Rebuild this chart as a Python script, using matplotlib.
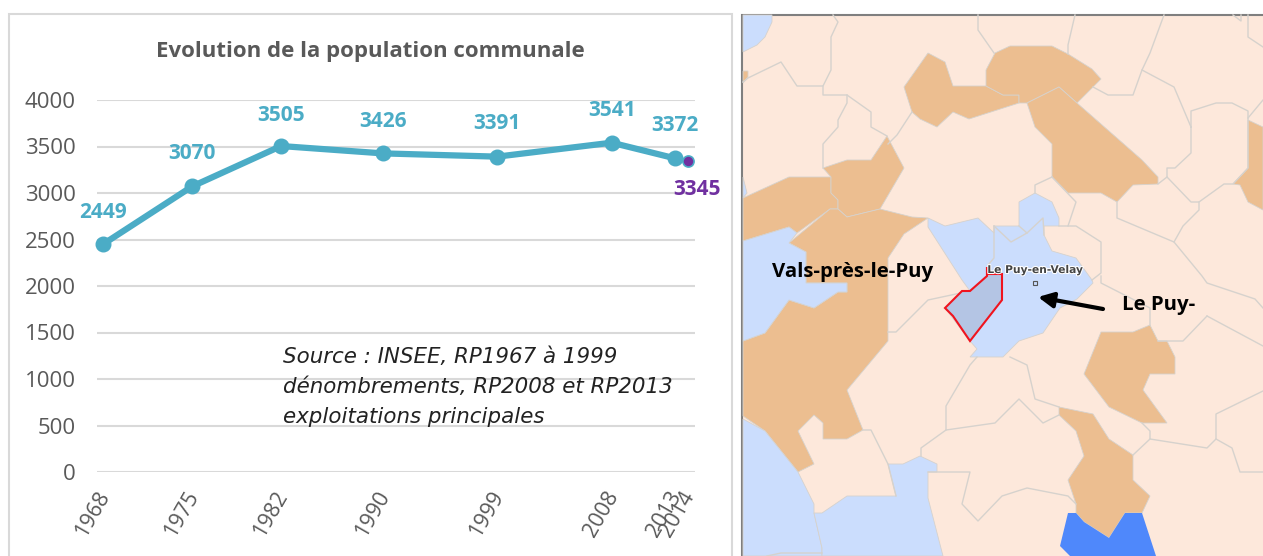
import matplotlib
matplotlib.use('Agg')
import matplotlib.pyplot as plt
import matplotlib.patheffects as pe
from matplotlib.patches import Polygon, Rectangle
from matplotlib.transforms import ScaledTranslation

# chart data
years = [1968, 1975, 1982, 1990, 1999, 2008, 2013]
population = [2449, 3070, 3505, 3426, 3391, 3541, 3372]
year_last = 2014
population_last = 3345
tick_years = [1968, 1975, 1982, 1990, 1999, 2008, 2013, 2014]
y_ticks = [0, 500, 1000, 1500, 2000, 2500, 3000, 3500, 4000]

# label offsets in pixels from the point
label_offsets = [(0, 32), (0, 33), (0, 31), (0, 32), (0, 33), (0, 32), (0, 33)]

# map shapes in pixels
tan_shapes = [
    [(928,53),(945,62),(953,86),(986,86),(1003,95),(1019,95),(1019,103),(969,119),(953,112),(937,127),(920,119),(912,112),(904,87)],
    [(986,86),(986,70),(995,53),(1010,46),(1052,46),(1068,54),(1092,69),(1101,79),(1077,103),(1059,87),(1027,103),(1019,103),(1019,95),(1003,95)],
    [(1027,103),(1059,87),(1077,103),(1142,160),(1158,177),(1158,184),(1133,185),(1117,202),(1101,193),(1068,193),(1052,177),(1052,144),(1035,127)],
    [(1248,120),(1263,127),(1263,210),(1248,202),(1240,185),(1233,184),(1248,168)],
    [(743,71),(748,71),(748,77),(743,83)],
    [(743,198),(789,177),(831,177),(831,193),(838,200),(838,209),(830,209),(797,233),(789,227),(743,241)],
    [(823,168),(847,160),(871,160),(887,136),(904,168),(880,209),(847,217),(838,209),(838,200),(831,193),(831,177)],
    [(789,243),(830,209),(838,209),(847,217),(880,209),(912,217),(928,218),(904,234),(888,258),(888,341),(847,390),(863,430),(847,439),(823,439),(823,423),(814,415),(798,431),(814,464),(798,472),(765,431),(743,416),(743,341),(765,333),(789,300),(814,308),(838,292),(847,292),(847,283),(806,283),(806,252)],
    [(1150,325),(1158,341),(1167,341),(1175,357),(1175,374),(1150,374),(1143,390),(1167,423),(1142,423),(1109,407),(1084,374),(1101,332),(1133,332)],
    [(1059,407),(1093,414),(1109,439),(1133,455),(1133,480),(1150,496),(1142,513),(1125,513),(1109,538),(1084,522),(1076,513),(1076,504),(1068,480),(1084,456),(1076,431),(1059,415)],
]
blue_shapes = [
    [(743,15),(772,15),(772,22),(765,37),(757,45),(743,52)],
    [(743,177),(747,193),(743,198)],
    [(743,241),(789,227),(797,233),(789,243),(806,252),(806,283),(847,283),(847,292),(838,292),(814,308),(789,300),(765,333),(743,341)],
    [(743,419),(765,431),(798,472),(814,504),(814,513),(822,548),(822,556),(743,556)],
    [(814,513),(822,513),(847,496),(896,496),(888,464),(903,464),(920,456),(937,464),(937,472),(928,472),(928,498),(943,556),(822,556),(822,548)],
    [(928,218),(945,226),(978,218),(994,233),(994,226),(1019,226),(1019,202),(1035,193),(1052,202),(1059,218),(1059,226),(1044,226),(1044,235),(1052,251),(1076,258),(1092,280),(1093,283),(1077,299),(1060,308),(1043,333),(1019,341),(1003,357),(970,357),(977,349),(970,341),(945,308),(962,291),(970,291),(962,280),(928,227)],
]
dark_blue_shape = [(1068,513),(1076,513),(1084,522),(1109,538),(1125,513),(1142,513),(1156,556),(1070,556),(1060,546)]
commune_shape = [(987,267),(987,276),(970,291),(962,291),(945,308),(953,316),(970,341),(1002,300),(1002,274),(987,274)]
border_lines = [
    [(833,15),(838,22),(831,37),(831,70),(823,86),(797,86),(781,62),(748,78),(743,82)],
    [(823,86),(823,95),(847,95),(871,112),(871,127),(887,136)],
    [(847,95),(847,103),(838,120),(838,127),(823,144),(823,168)],
    [(888,144),(897,135),(912,112)],
    [(978,15),(978,30),(994,53)],
    [(1075,15),(1068,45),(1068,54)],
    [(1164,15),(1150,53),(1142,70),(1133,95),(1108,95),(1093,87)],
    [(1142,70),(1174,87),(1191,127)],
    [(1191,127),(1191,111),(1216,103),(1232,103),(1248,111),(1248,168),(1233,184),(1224,184),(1199,202),(1191,202),(1167,177),(1167,168),(1175,168),(1191,153),(1191,127)],
    [(1167,177),(1158,184)],
    [(1248,118),(1263,100)],
    [(1248,15),(1248,37),(1263,47)],
    [(1233,15),(1241,21),(1241,15)],
    [(1117,202),(1117,218),(1174,242),(1183,226),(1199,210),(1199,202)],
    [(1174,242),(1202,276),(1207,283),(1255,299),(1263,308)],
    [(1052,177),(1035,185),(1035,193)],
    [(1052,177),(1076,202),(1068,226)],
    [(1059,226),(1076,226),(1101,242),(1101,273),(1092,280)],
    [(888,332),(896,332),(928,300),(970,291)],
    [(1101,276),(1101,283),(1150,308),(1150,325)],
    [(1207,316),(1183,341),(1158,341)],
    [(1207,316),(1263,346)],
    [(1263,391),(1216,414),(1216,439),(1207,448),(1150,439),(1150,431),(1142,423)],
    [(1150,439),(1133,455)],
    [(1216,439),(1232,448),(1240,472),(1263,472)],
    [(977,357),(970,365),(946,406),(946,430),(995,423),(1019,399),(1043,423),(1059,415)],
    [(1010,357),(1027,365),(1035,399),(1059,407)],
    [(946,430),(921,448),(921,456)],
    [(928,472),(970,472),(962,504),(978,521),(1002,496),(1027,488),(1068,496),(1076,504)],
    [(863,430),(871,430),(888,464),(896,496)],
    [(767,556),(781,553),(822,553)],
    [(994,226),(994,258),(988,265)],
    [(994,226),(1011,242),(1027,233),(1043,218),(1044,235)],
    [(1019,226),(1027,233)],
]

TEAL = '#4BACC6'
PURPLE = '#7030A0'
GREY = '#595959'
LINE = '#D6D2CD'
W, H = 1263, 556

fig = plt.figure(figsize=(W / 100, H / 100), dpi=100, facecolor='white')

# background axes in pixel coordinates: panel frame and map
bg = fig.add_axes([0, 0, 1, 1])
bg.set_xlim(0, W)
bg.set_ylim(H, 0)
bg.axis('off')

bg.add_patch(Rectangle((9, 14), 723, 560, fc='white', ec='#D9D9D9', lw=1.5))
bg.add_patch(Rectangle((742, 15), 530, 560, fc='#FDE8DB', ec='#7F7F7F', lw=1.5))

for shape in tan_shapes:
    bg.add_patch(Polygon(shape, fc='#ECBE90', ec=LINE, lw=0.6))
for shape in blue_shapes:
    bg.add_patch(Polygon(shape, fc='#CBDDFD', ec=LINE, lw=0.6))
bg.add_patch(Polygon(dark_blue_shape, fc='#4F88FB', ec='none'))
for line in border_lines:
    bg.plot([p[0] for p in line], [p[1] for p in line], color=LINE, lw=1.0)
bg.add_patch(Polygon(commune_shape, fc='#B4C5E4', ec='#F0141E', lw=1.5, zorder=3))

bg.plot([1035], [283], marker='s', ms=3, mfc='none', mec='#555555', mew=0.8)
bg.text(1035, 270, 'Le Puy-en-Velay', fontsize=7.7, fontweight='bold', color='#444444',
        ha='center', va='center', family='DejaVu Sans', zorder=4,
        path_effects=[pe.withStroke(linewidth=1.5, foreground='white')])
bg.text(772, 272, 'Vals-près-le-Puy', fontsize=14.7, fontweight='bold', color='black',
        ha='left', va='center', family='Open Sans')
bg.text(1122, 305, 'Le Puy-', fontsize=14.7, fontweight='bold', color='black',
        ha='left', va='center', family='Open Sans')
bg.annotate('', xy=(1038, 297), xytext=(1103, 309),
            arrowprops=dict(arrowstyle='-|>,head_length=0.9,head_width=0.45', color='black', lw=3,
                            shrinkA=0, shrinkB=0))

# line chart, placed so the axis matches the pixel positions
left, right, top, bottom = 97, 695, 100, 472
px_per_year = (688 - 103) / (2014 - 1968)
ax = fig.add_axes([left / W, 1 - bottom / H, (right - left) / W, (bottom - top) / H])
ax.patch.set_alpha(0)
ax.set_xlim(1968 + (left - 103) / px_per_year, 1968 + (right - 103) / px_per_year)
ax.set_ylim(0, 4000)
for s in ax.spines.values():
    s.set_visible(False)
ax.set_yticks(y_ticks)
ax.grid(axis='y', color='#D9D9D9', lw=1.5)
ax.set_axisbelow(True)
ax.tick_params(axis='both', length=0)
ax.tick_params(axis='y', pad=15.5, labelsize=16, labelcolor=GREY)
plt.setp(ax.get_yticklabels(), family='Open Sans')

ax.set_xticks(tick_years)
ax.set_xticklabels(tick_years, rotation=60, ha='right', va='top', family='Open Sans',
                   fontsize=15.5, color=GREY)
ax.tick_params(axis='x', pad=11)
shift = ScaledTranslation(11 / 100, 0, fig.dpi_scale_trans)
for lab in ax.get_xticklabels():
    lab.set_transform(lab.get_transform() + shift)

ax.plot(years, population, color=TEAL, lw=4.5, marker='o', ms=10.5, clip_on=False, zorder=3)
ax.plot([year_last], [population_last], marker='o', ms=8, mfc=PURPLE, mec=TEAL, mew=1.2,
        linestyle='none', clip_on=False, zorder=4)

for yr, val, off in zip(years, population, label_offsets):
    ax.annotate(str(val), (yr, val), xytext=(off[0] * 0.72, off[1] * 0.72),
                textcoords='offset points', ha='center', va='center', color=TEAL,
                fontsize=15, fontweight='bold', family='Open Sans')
ax.annotate(str(population_last), (year_last, population_last), xytext=(9 * 0.72, -29 * 0.72),
            textcoords='offset points', ha='center', va='center', color=PURPLE,
            fontsize=15, fontweight='bold', family='Open Sans')

fig.text(370 / W, 1 - 51 / H, 'Evolution de la population communale', ha='center', va='center',
         fontsize=16, fontweight='bold', color=GREY, family='Open Sans')
fig.text(283 / W, 1 - 387 / H, 'Source : INSEE, RP1967 à 1999\ndénombrements, RP2008 et RP2013\nexploitations principales',
         ha='left', va='center', fontsize=15.4, style='italic', color='#222222',
         family='DejaVu Sans', linespacing=1.65)

fig.savefig('out.png', dpi=100)
